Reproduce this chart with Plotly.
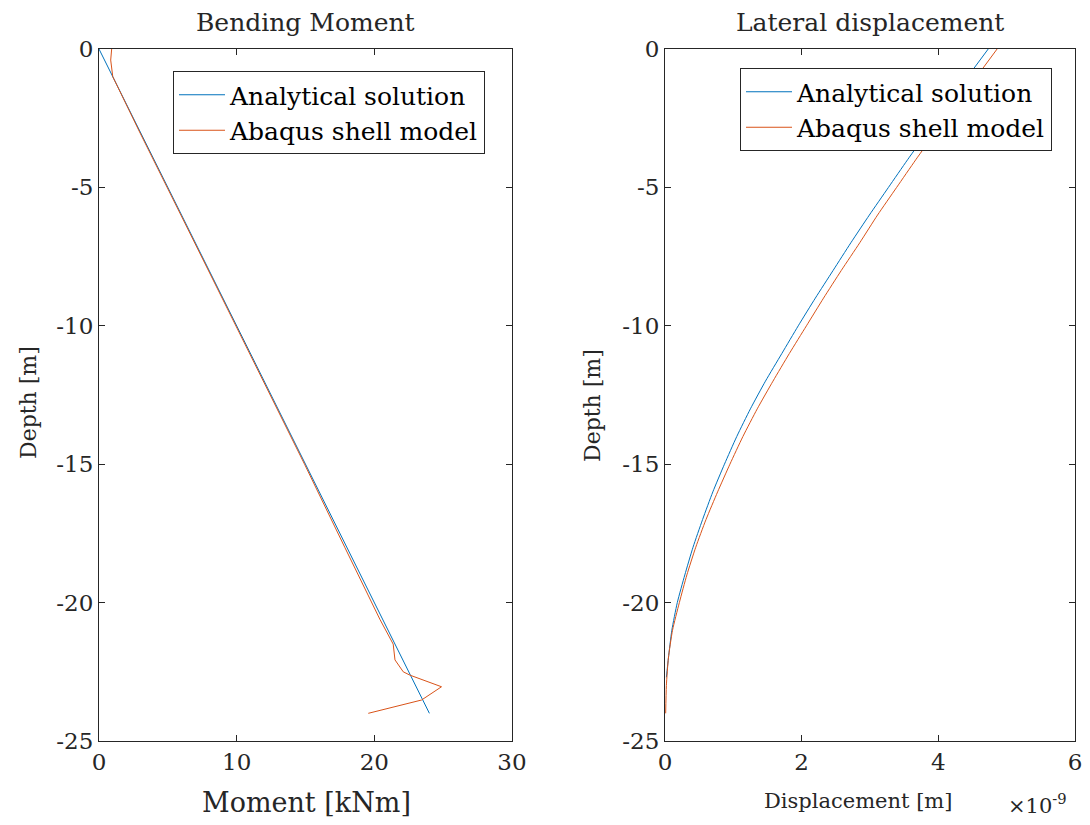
import plotly.graph_objects as go

# ---------------- data ----------------
# Bending moment (kNm) vs depth (m)
bm_analytical_depth = [0, -2, -4, -6, -8, -10, -12, -14, -16, -18, -20, -22, -24]
bm_analytical_moment = [0, 2, 4, 6, 8, 10, 12, 14, 16, 18, 20, 22, 24]

bm_abaqus_depth = [0, -0.4, -1.0, -3, -6, -9, -12, -15, -18, -20.6, -21.5, -22.07, -22.5, -22.62, -23.04, -23.52, -24.0]
bm_abaqus_moment = [0.92, 0.85, 1.0, 2.95, 5.95, 8.95, 11.93, 14.93, 17.85, 20.4, 21.37, 21.5, 22.1, 22.58, 24.88, 23.43, 19.56]

# Lateral displacement (x 1e-9 m) vs depth (m)
disp_analytical_depth = [0, -1, -2, -3, -4, -5, -6, -7, -8, -9, -10, -11, -12, -13, -14, -15, -16,
                         -17, -18, -19, -20, -21, -22, -22.7]
disp_analytical_e9 = [4.73, 4.43, 4.13, 3.84, 3.55, 3.27, 2.99, 2.72, 2.46, 2.20, 1.95, 1.71, 1.47,
                      1.25, 1.05, 0.87, 0.70, 0.55, 0.41, 0.29, 0.18, 0.10, 0.05, 0.02]

disp_abaqus_depth = [0, -1, -2, -3, -4, -5, -6, -7, -8, -9, -10, -11, -12, -13, -14, -15, -16,
                     -17, -18, -19, -20, -21, -22, -23, -24]
disp_abaqus_e9 = [4.86, 4.56, 4.25, 3.96, 3.67, 3.39, 3.11, 2.85, 2.58, 2.32, 2.07, 1.82, 1.58,
                  1.35, 1.14, 0.95, 0.77, 0.60, 0.45, 0.32, 0.21, 0.11, 0.05, 0.02, 0.01]

depth_ticks = [0, -5, -10, -15, -20, -25]
depth_ticktext = ["0", "-5", "-10", "-15", "-20", "-25"]
moment_ticks = [0, 10, 20, 30]
disp_ticks = [0, 2, 4, 6]

# ---------------- style ----------------
BLUE = "#0072BD"
ORANGE = "#D95319"
AX = "#262626"
FONT = "DejaVu Serif"

fig = go.Figure()

fig.add_trace(go.Scatter(x=bm_analytical_moment, y=bm_analytical_depth, mode="lines",
                         line=dict(color=BLUE, width=1), name="Analytical solution",
                         xaxis="x", yaxis="y", legend="legend"))
fig.add_trace(go.Scatter(x=bm_abaqus_moment, y=bm_abaqus_depth, mode="lines",
                         line=dict(color=ORANGE, width=1), name="Abaqus shell model",
                         xaxis="x", yaxis="y", legend="legend"))
fig.add_trace(go.Scatter(x=disp_analytical_e9, y=disp_analytical_depth, mode="lines",
                         line=dict(color=BLUE, width=1, shape="spline", smoothing=0.6),
                         name="Analytical solution",
                         xaxis="x2", yaxis="y2", legend="legend2"))
fig.add_trace(go.Scatter(x=disp_abaqus_e9, y=disp_abaqus_depth, mode="lines",
                         line=dict(color=ORANGE, width=1, shape="spline", smoothing=0.6),
                         name="Abaqus shell model",
                         xaxis="x2", yaxis="y2", legend="legend2"))

W, H = 1090, 825
def px(x): return x / W
def py(y): return 1 - y / H

axis_common = dict(showline=True, linecolor=AX, linewidth=1, mirror="ticks",
                   ticks="inside", ticklen=6, tickcolor=AX, tickwidth=1,
                   showgrid=False, zeroline=False, automargin=False,
                   tickfont=dict(family=FONT, size=23, color=AX))

legend_common = dict(xanchor="left", yanchor="top",
                     bgcolor="white", bordercolor=AX, borderwidth=1,
                     font=dict(family=FONT, size=25, color="black"),
                     tracegroupgap=0, itemwidth=46)

fig.update_layout(
    width=W, height=H,
    margin=dict(l=0, r=0, t=0, b=0, autoexpand=False),
    paper_bgcolor="white", plot_bgcolor="white",
    font=dict(family=FONT, color=AX),
    xaxis=dict(domain=[px(99), px(512)], range=[0, 30], tickvals=moment_ticks,
               anchor="y", **axis_common),
    yaxis=dict(domain=[py(741), py(49)], range=[-25, 0], tickvals=depth_ticks,
               ticktext=depth_ticktext, anchor="x", **axis_common),
    xaxis2=dict(domain=[px(665), px(1075)], range=[0, 6], tickvals=disp_ticks,
                anchor="y2", **axis_common),
    yaxis2=dict(domain=[py(741), py(49)], range=[-25, 0], tickvals=depth_ticks,
                ticktext=depth_ticktext, anchor="x2", **axis_common),
    legend=dict(x=px(173), y=py(71), **legend_common),
    legend2=dict(x=px(740), y=py(68), **legend_common),
    showlegend=True,
)

ann = [
    dict(text="Bending Moment", x=px(305), y=py(23), size=25),
    dict(text="Lateral displacement", x=px(870), y=py(23), size=25),
    dict(text="Moment [kNm]", x=px(306), y=py(802), size=27),
    dict(text="Displacement [m]", x=px(858), y=py(801), size=21),
]
for a in ann:
    fig.add_annotation(text=a["text"], x=a["x"], y=a["y"], xref="paper", yref="paper",
                       xanchor="center", yanchor="middle", showarrow=False,
                       font=dict(family=FONT, size=a["size"], color=AX))
fig.add_annotation(text="Depth [m]", x=px(28), y=py(403), xref="paper", yref="paper",
                   textangle=-90, showarrow=False, xanchor="center", yanchor="middle",
                   font=dict(family=FONT, size=22, color=AX))
fig.add_annotation(text="Depth [m]", x=px(592), y=py(406), xref="paper", yref="paper",
                   textangle=-90, showarrow=False, xanchor="center", yanchor="middle",
                   font=dict(family=FONT, size=22, color=AX))
fig.add_annotation(text="×10<sup>-9</sup>", x=px(1037), y=py(804), xref="paper", yref="paper",
                   showarrow=False, xanchor="center", yanchor="middle",
                   font=dict(family=FONT, size=21, color=AX))

fig.write_html("out.html")
